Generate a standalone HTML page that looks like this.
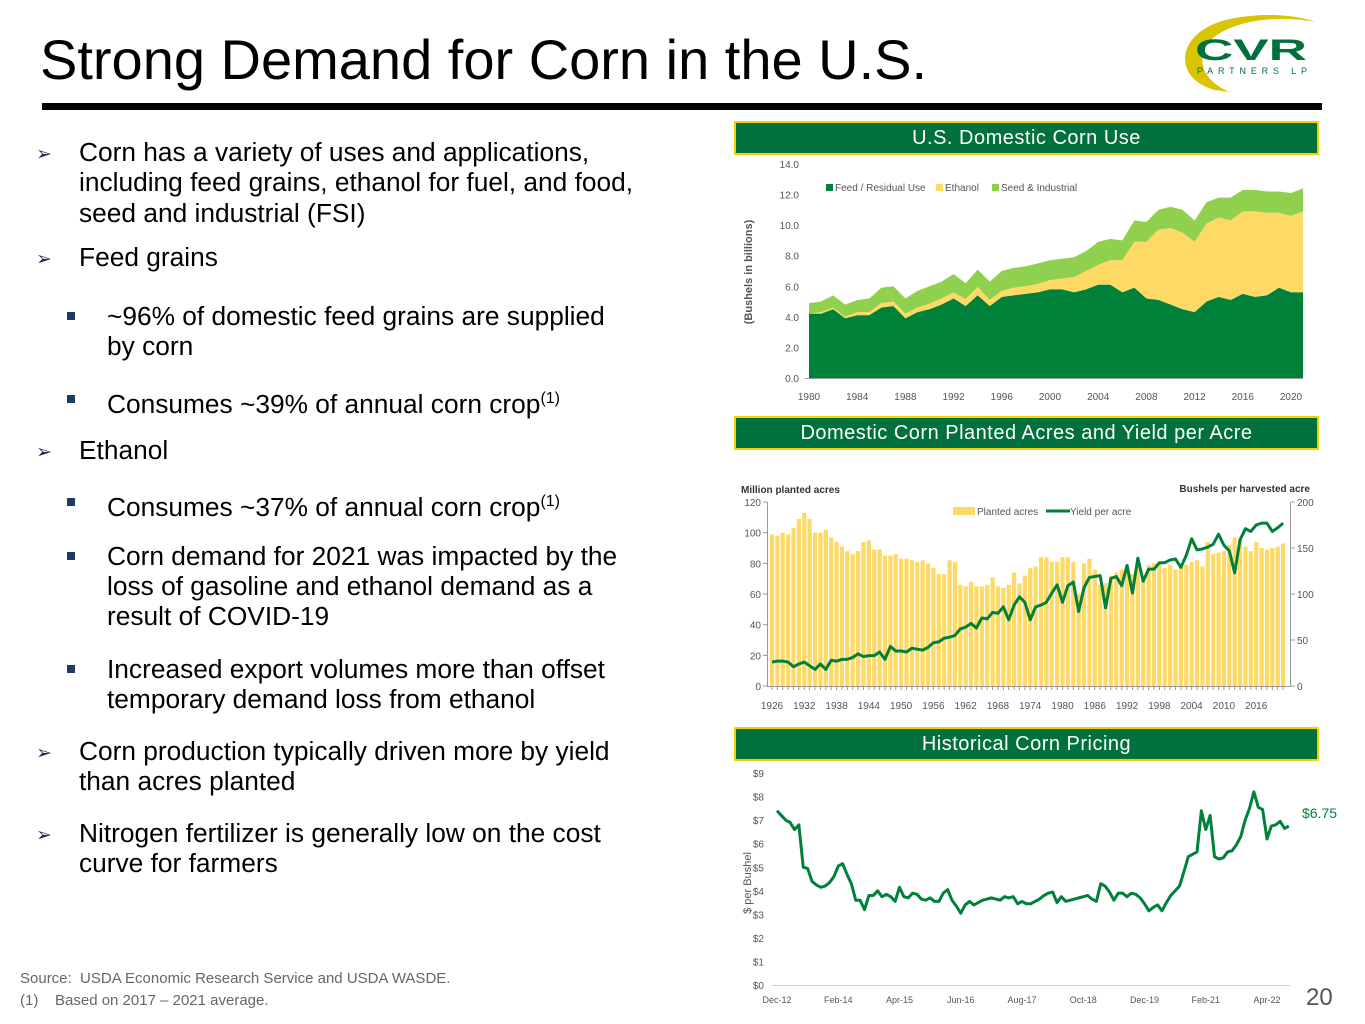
<!DOCTYPE html>
<html><head><meta charset="utf-8">
<style>
body{margin:0;width:1365px;height:1024px;background:#fff;position:relative;overflow:hidden;font-family:"Liberation Sans",Arial,sans-serif;}
.t{position:absolute;font-size:26.3px;color:#000;white-space:nowrap;line-height:30px;}
.ar{position:absolute;font-size:19px;color:#1a2a4a;}
.sq{position:absolute;width:8px;height:8px;background:#1f3864;}
.hdr{position:absolute;left:734px;width:581px;height:30px;background:#00703c;border:2px solid #f2d200;color:#fff;font-size:20px;text-align:center;line-height:30px;letter-spacing:0.5px;}
svg text{font-family:"Liberation Sans",Arial,sans-serif;}
</style></head><body>
<div style="position:absolute;left:40px;top:27px;font-size:56px;color:#000;">Strong Demand for Corn in the U.S.</div>
<div style="position:absolute;left:42px;top:103px;width:1280px;height:7px;background:#000;"></div>
<svg style="position:absolute;left:1175px;top:8px" width="150" height="90">
<path d="M40 82 C-5 70 0 20 60 10 C95 4 125 8 140 14 C110 8 70 10 45 25 C20 40 20 70 55 84 Z" fill="#d9c400"/>
<text x="20" y="52" font-size="30" font-weight="bold" fill="#00703c" textLength="112" lengthAdjust="spacingAndGlyphs">CVR</text>
<text x="22" y="66" font-size="9" fill="#00703c" textLength="110" lengthAdjust="spacing">PARTNERS LP</text>
</svg>

<div>
<div class="ar" style="left:36px;top:143px">➢</div>
<div class="t" style="left:79px;top:137px">Corn has a variety of uses and applications,</div>
<div class="t" style="left:79px;top:167px">including feed grains, ethanol for fuel, and food,</div>
<div class="t" style="left:79px;top:198px">seed and industrial (FSI)</div>
<div class="ar" style="left:36px;top:248px">➢</div>
<div class="t" style="left:79px;top:242px">Feed grains</div>
<div class="sq" style="left:67px;top:312px"></div>
<div class="t" style="left:107px;top:301px">~96% of domestic feed grains are supplied</div>
<div class="t" style="left:107px;top:331px">by corn</div>
<div class="sq" style="left:67px;top:395px"></div>
<div class="t" style="left:107px;top:384px">Consumes ~39% of annual corn crop<sup style="font-size:16px">(1)</sup></div>
<div class="ar" style="left:36px;top:441px">➢</div>
<div class="t" style="left:79px;top:435px">Ethanol</div>
<div class="sq" style="left:67px;top:498px"></div>
<div class="t" style="left:107px;top:487px">Consumes ~37% of annual corn crop<sup style="font-size:16px">(1)</sup></div>
<div class="sq" style="left:67px;top:552px"></div>
<div class="t" style="left:107px;top:541px">Corn demand for 2021 was impacted by the</div>
<div class="t" style="left:107px;top:571px">loss of gasoline and ethanol demand as a</div>
<div class="t" style="left:107px;top:601px">result of COVID-19</div>
<div class="sq" style="left:67px;top:665px"></div>
<div class="t" style="left:107px;top:654px">Increased export volumes more than offset</div>
<div class="t" style="left:107px;top:684px">temporary demand loss from ethanol</div>
<div class="ar" style="left:36px;top:742px">➢</div>
<div class="t" style="left:79px;top:736px">Corn production typically driven more by yield</div>
<div class="t" style="left:79px;top:766px">than acres planted</div>
<div class="ar" style="left:36px;top:824px">➢</div>
<div class="t" style="left:79px;top:818px">Nitrogen fertilizer is generally low on the cost</div>
<div class="t" style="left:79px;top:848px">curve for farmers</div>
</div>
<div style="position:absolute;left:20px;top:970px;font-size:15px;color:#666">Source:&nbsp; USDA Economic Research Service and USDA WASDE.</div>
<div style="position:absolute;left:20px;top:992px;font-size:15px;color:#666">(1)&nbsp;&nbsp;&nbsp; Based on 2017 – 2021 average.</div>
<div style="position:absolute;left:1306px;top:984px;font-size:24px;color:#555">20</div>

<div class="hdr" style="top:121px">U.S. Domestic Corn Use</div>
<div class="hdr" style="top:416px">Domestic Corn Planted Acres and Yield per Acre</div>
<div class="hdr" style="top:727px">Historical Corn Pricing</div>

<svg id="c1" style="position:absolute;left:0;top:0" width="1365" height="1024"></svg>

<script>
const years1=[];for(let y=1980;y<=2021;y++)years1.push(y);
const feed=[4.2,4.2,4.5,3.9,4.1,4.1,4.6,4.7,3.9,4.3,4.5,4.8,5.2,4.7,5.4,4.7,5.3,5.4,5.5,5.6,5.8,5.8,5.6,5.8,6.1,6.1,5.6,5.9,5.2,5.1,4.8,4.5,4.3,5.0,5.3,5.1,5.5,5.3,5.4,5.9,5.6,5.6];
const ethanol=[0.0,0.1,0.1,0.1,0.2,0.2,0.3,0.3,0.3,0.3,0.35,0.4,0.4,0.45,0.55,0.4,0.4,0.5,0.5,0.55,0.6,0.7,1.0,1.2,1.3,1.6,2.1,3.0,3.7,4.6,5.0,5.0,4.6,5.1,5.2,5.2,5.4,5.6,5.4,4.9,5.0,5.3];
const seedInd=[0.7,0.7,0.8,0.8,0.8,0.9,1.0,1.0,1.0,1.1,1.15,1.1,1.2,1.05,1.15,1.2,1.3,1.3,1.3,1.35,1.3,1.3,1.3,1.3,1.5,1.4,1.3,1.4,1.3,1.3,1.4,1.5,1.4,1.4,1.3,1.5,1.4,1.4,1.4,1.4,1.5,1.5];
const ticks1=["0.0","2.0","4.0","6.0","8.0","10.0","12.0","14.0"];
const xLabels1=[1980,1984,1988,1992,1996,2000,2004,2008,2012,2016,2020];

const years2=[];for(let y=1926;y<=2021;y++)years2.push(y);
const acres=[99,98,100,99,103,109,113,109,100,100,102,97,94,91,88,86,88,94,95,89,89,85,85,86,83,83,82,81,82,80,77,73,73,82,81,66,65,68,65,65,66,71,65,64,66,74,67,72,77,78,84,84,81,81,84,84,81,60,80,83,76,66,67,72,74,76,79,73,79,71,79,80,80,77,79,76,79,79,81,82,78,94,86,87,88,92,97,95,91,88,94,90,89,90,91,93];
const yieldAc=[26,27,27,26,21,24,26,22,18,24,18,28,27,29,29,31,35,32,33,33,37,29,43,38,38,37,41,40,39,42,47,48,52,53,55,62,64,68,63,74,73,80,79,86,72,88,97,91,72,86,88,91,101,110,91,109,113,81,107,118,119,120,85,117,119,109,131,101,139,114,127,127,134,134,137,138,129,142,160,148,149,151,154,165,153,147,123,159,171,168,175,177,177,168,172,177];
const ticksL2=[0,20,40,60,80,100,120];
const ticksR2=[0,50,100,150,200];
const xLabels2=[1926,1932,1938,1944,1950,1956,1962,1968,1974,1980,1986,1992,1998,2004,2010,2016];

const prices=[7.4,7.2,7.0,6.9,6.6,6.8,5.0,4.95,4.4,4.25,4.15,4.2,4.35,4.6,5.05,5.15,4.7,4.3,3.6,3.6,3.2,3.8,3.8,4.0,3.75,3.85,3.75,3.55,4.15,3.75,3.7,3.9,3.85,3.65,3.6,3.7,3.55,3.55,3.9,4.05,3.6,3.35,3.05,3.4,3.55,3.4,3.5,3.6,3.65,3.7,3.65,3.6,3.75,3.7,3.75,3.45,3.55,3.45,3.45,3.55,3.65,3.8,3.9,3.95,3.5,3.75,3.55,3.6,3.65,3.7,3.75,3.8,3.65,3.55,4.3,4.2,3.95,3.6,3.9,3.9,3.75,3.9,3.85,3.7,3.45,3.15,3.3,3.4,3.15,3.5,3.8,4.0,4.2,4.8,5.45,5.55,5.65,7.4,6.6,7.2,5.45,5.35,5.4,5.65,5.7,5.95,6.3,7.0,7.5,8.2,7.55,7.45,6.2,6.75,6.8,6.95,6.65,6.75];
const ticks3=["$0","$1","$2","$3","$4","$5","$6","$7","$8","$9"];
const xLabels3=["Dec-12","Feb-14","Apr-15","Jun-16","Aug-17","Oct-18","Dec-19","Feb-21","Apr-22"];

const svg=document.getElementById('c1');
const NS='http://www.w3.org/2000/svg';
function mk(tag,attrs,parent){const e=document.createElementNS(NS,tag);for(const k in attrs)e.setAttribute(k,attrs[k]);(parent||svg).appendChild(e);return e;}
function txt(x,y,s,size,fill,anchor,extra){const e=mk('text',Object.assign({x:x,y:y,'font-size':size,fill:fill,'text-anchor':anchor||'start'},extra||{}));e.textContent=s;return e;}

// ---------- Chart 1 ----------
const X1=y=>809+(y-1980)*12.05, Y1=v=>378-v*15.29;
ticks1.forEach((t,i)=>{const e=txt(799,Y1(i*2)+4,t,10,'#555','end');

});
xLabels1.forEach(y=>{const e=txt(X1(y),400,String(y),10,'#555','middle');

});
mk('line',{x1:805,x2:1303,y1:378.5,y2:378.5,stroke:'#999','stroke-width':1});
const yt=txt(0,0,'(Bushels in billions)',11,'#555','middle',{'font-weight':'bold',transform:'translate(752,272) rotate(-90)'});


function area(lo,hi,color,name){let d='';years1.forEach((y,i)=>{d+=(i?'L':'M')+X1(y)+','+Y1(hi[i]);});
for(let i=years1.length-1;i>=0;i--)d+='L'+X1(years1[i])+','+Y1(lo[i]);
const p=mk('path',{d:d+'Z',fill:color});

}
const zero=feed.map(()=>0), c1=feed, c2=feed.map((v,i)=>v+ethanol[i]), c3=c2.map((v,i)=>v+seedInd[i]);
area(c2,c3,'#8fd14f','seed-industrial-area');
area(c1,c2,'#ffd966','ethanol-area');
area(zero,c1,'#00813a','feed-residual-area');
[['Feed / Residual Use','#00813a',826],['Ethanol','#ffd966',936],['Seed & Industrial','#8fd14f',992]].forEach(l=>{
const g=mk('g',{});

mk('rect',{x:l[2],y:184,width:7,height:7,fill:l[1]},g);
const t=mk('text',{x:l[2]+9,y:191,'font-size':10,fill:'#555'},g);t.textContent=l[0];});

// ---------- Chart 2 ----------
const X2=y=>772+(y-1926)*5.38, YL=v=>686-v*1.533, YR=v=>686-v*0.92;
mk('line',{x1:767.5,x2:767.5,y1:502,y2:686,stroke:'#999'});
mk('line',{x1:1290.5,x2:1290.5,y1:502,y2:686,stroke:'#999'});
mk('line',{x1:767,x2:1291,y1:686.5,y2:686.5,stroke:'#999'});
ticksL2.forEach(v=>{mk('line',{x1:763,x2:767,y1:YL(v),y2:YL(v),stroke:'#999'});const e=txt(761,YL(v)+4,String(v),10,'#555','end');

});
ticksR2.forEach(v=>{mk('line',{x1:1291,x2:1295,y1:YR(v),y2:YR(v),stroke:'#999'});const e=txt(1297,YR(v)+4,String(v),10,'#555');

});
years2.forEach((y,i)=>{const r=mk('rect',{x:X2(y)-2.1,y:YL(acres[i]),width:4.2,height:686-YL(acres[i]),fill:'#ffd966'});


mk('line',{x1:X2(y),x2:X2(y),y1:686,y2:690,stroke:'#999'});});
xLabels2.forEach(y=>{const e=txt(X2(y),709,String(y),10,'#555','middle');

});
const yl=mk('polyline',{points:years2.map((y,i)=>X2(y)+','+YR(yieldAc[i])).join(' '),fill:'none',stroke:'#00813a','stroke-width':3,'stroke-linejoin':'round'});


const lt=txt(741,493,'Million planted acres',10,'#333','start',{'font-weight':'bold'});


const rt=txt(1310,492,'Bushels per harvested acre',10,'#333','end',{'font-weight':'bold'});


const lg1=mk('g',{});

mk('rect',{x:953,y:507,width:22,height:8,fill:'#ffd966'},lg1);
mk('text',{x:977,y:515,'font-size':10,fill:'#555'},lg1).textContent='Planted acres';
const lg2=mk('g',{});

mk('line',{x1:1046,x2:1070,y1:511,y2:511,stroke:'#00813a','stroke-width':3},lg2);
mk('text',{x:1070,y:515,'font-size':10,fill:'#555'},lg2).textContent='Yield per acre';

// ---------- Chart 3 ----------
const X3=i=>777+i*4.375, Y3=v=>985-v*23.55;
mk('line',{x1:772,x2:1290,y1:985.5,y2:985.5,stroke:'#ccc'});
ticks3.forEach((t,i)=>{const e=txt(764,Y3(i)+4,t,10,'#555','end');

});
xLabels3.forEach((l,i)=>{const e=txt(X3(i*14),1003,l,9,'#555','middle');

});
const yt3=txt(0,0,'$ per Bushel',11,'#555','middle',{transform:'translate(751,883) rotate(-90)'});


const pl=mk('polyline',{points:prices.map((v,i)=>X3(i)+','+Y3(v)).join(' '),fill:'none',stroke:'#00813a','stroke-width':3,'stroke-linejoin':'round'});


const lab=txt(1302,818,'$'+prices[prices.length-1].toFixed(2),14,'#00813a');


</script>
</body></html>
